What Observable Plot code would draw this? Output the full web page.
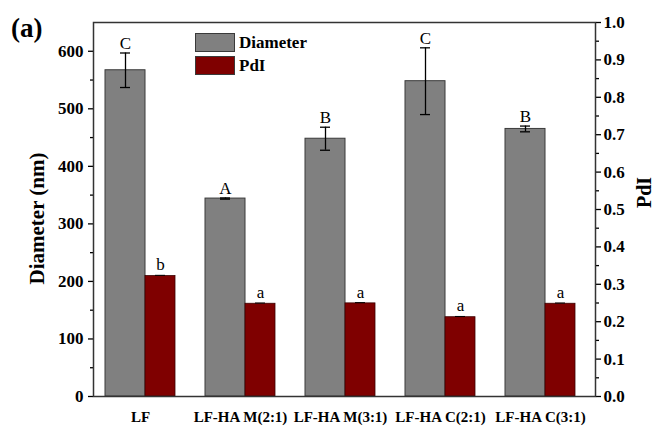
<!DOCTYPE html>
<html>
<head>
<meta charset="utf-8">
<script src="https://cdn.jsdelivr.net/npm/d3@7"></script>
<script src="https://cdn.jsdelivr.net/npm/@observablehq/plot@0.6"></script>
<style>
  html, body { margin: 0; padding: 0; background: #fff; }
  #wrap { position: relative; width: 657px; height: 427px; font-family: "Liberation Serif", "Times New Roman", serif; }
  #wrap svg { display: block; }
  .ov { position: absolute; font-weight: bold; color: #000; white-space: nowrap; line-height: 1; }
  .sw { position: absolute; width: 40px; height: 19px; box-sizing: border-box; border: 1px solid #3a3a3a; }
</style>
</head>
<body>
<div id="wrap"></div>
<script>
// ---- data ----
const categories = ["LF", "LF-HA M(2:1)", "LF-HA M(3:1)", "LF-HA C(2:1)", "LF-HA C(3:1)"];
const diameter   = [567, 344, 448, 548, 465];
const diameterErr = [30, 1, 20, 58, 5];
const diameterLetters = ["C", "A", "B", "C", "B"];
const pdi        = [0.322, 0.248, 0.249, 0.212, 0.248];
const pdiErr     = [0.002, 0.002, 0.002, 0.002, 0.002];
const pdiLetters = ["b", "a", "a", "a", "a"];
const leftTicks  = [0, 100, 200, 300, 400, 500, 600];
const rightTicks = [0, 0.1, 0.2, 0.3, 0.4, 0.5, 0.6, 0.7, 0.8, 0.9, 1.0];

const yMax = 650;          // left axis top; right axis 1.0 aligns with it
const k = yMax / 1.0;      // PdI -> left-axis units

const rows = categories.map((c, i) => ({
  i, c,
  dia: diameter[i], diaErr: diameterErr[i], diaL: diameterLetters[i],
  pdi: pdi[i] * k, pdiErr: pdiErr[i] * k, pdiL: pdiLetters[i]
}));

const serif = "Liberation Serif, Times New Roman, serif";
const leftMinor = leftTicks.slice(0, -1).map(v => v + 50);
const rightMajor = rightTicks.map(v => v * k);
const rightMinor = rightTicks.slice(0, -1).map(v => (v + 0.05) * k);

const chart = Plot.plot({
  width: 657,
  height: 427,
  marginLeft: 93,
  marginRight: 62,
  marginTop: 22,
  marginBottom: 31,
  style: { fontFamily: serif, background: "#fff", color: "#000" },
  x: { type: "linear", domain: [-0.47, 4.55] },
  y: { domain: [0, yMax] },
  marks: [
    Plot.rect(rows, { x1: d => d.i - 0.35, x2: d => d.i + 0.05, y1: 0, y2: "dia", fill: "#808080", stroke: "#3a3a3a", strokeWidth: 1 }),
    Plot.rect(rows, { x1: d => d.i + 0.05, x2: d => d.i + 0.35, y1: 0, y2: "pdi", fill: "#7f0000", stroke: "#3a0000", strokeWidth: 0.8 }),
    // error bars (diameter)
    Plot.ruleX(rows, { x: d => d.i - 0.15, y1: d => d.dia - d.diaErr, y2: d => d.dia + d.diaErr, stroke: "#000", strokeWidth: 1.3 }),
    Plot.ruleY(rows, { y: d => d.dia + d.diaErr, x1: d => d.i - 0.2, x2: d => d.i - 0.1, stroke: "#000", strokeWidth: 1.3 }),
    Plot.ruleY(rows, { y: d => d.dia - d.diaErr, x1: d => d.i - 0.2, x2: d => d.i - 0.1, stroke: "#000", strokeWidth: 1.3 }),
    // error bars (PdI)
    Plot.ruleY(rows, { y: d => d.pdi + d.pdiErr, x1: d => d.i + 0.15, x2: d => d.i + 0.25, stroke: "#000", strokeWidth: 1 }),
    // significance letters
    Plot.text(rows, { x: d => d.i - 0.15, y: d => d.dia + d.diaErr, text: "diaL", lineAnchor: "bottom", dy: -4, fontSize: 17, fontFamily: serif }),
    Plot.text(rows, { x: d => d.i + 0.2, y: d => d.pdi + d.pdiErr, text: "pdiL", lineAnchor: "bottom", dy: -5, fontSize: 17, fontFamily: serif }),
    // left axis
    Plot.axisY({ anchor: "left", ticks: leftTicks, tickSize: 5, tickPadding: 5, fontSize: 17, fontWeight: "bold", label: null, strokeWidth: 1.3 }),
    Plot.axisY({ anchor: "left", ticks: leftMinor, tickSize: 3, tickFormat: () => "", label: null, strokeWidth: 1.3 }),
    // right axis
    Plot.axisY({ anchor: "right", ticks: rightMajor, tickFormat: v => (v / k).toFixed(1), tickSize: 5, tickPadding: 3, fontSize: 17, fontWeight: "bold", label: null, strokeWidth: 1.3 }),
    Plot.axisY({ anchor: "right", ticks: rightMinor, tickSize: 3, tickFormat: () => "", label: null, strokeWidth: 1.3 }),
    // x axis labels
    Plot.axisX({ ticks: [0, 1, 2, 3, 4], tickFormat: i => categories[i], tickSize: 0, tickPadding: 15, fontSize: 15, fontWeight: "bold", label: null }),
    // axis titles
    Plot.text(["Diameter (nm)"], { frameAnchor: "left", textAnchor: "middle", dx: -56, dy: 9, rotate: -90, fontSize: 21, fontWeight: "bold", fontFamily: serif }),
    Plot.text(["PdI"], { frameAnchor: "right", textAnchor: "middle", dx: 49, dy: -17, rotate: -90, fontSize: 20, fontWeight: "bold", fontFamily: serif }),
    Plot.frame({ stroke: "#333", strokeWidth: 1.5 })
  ]
});

const wrap = document.getElementById("wrap");
wrap.appendChild(chart);

function addText(txt, left, top, size) {
  const el = document.createElement("div");
  el.className = "ov";
  el.textContent = txt;
  el.style.left = left + "px";
  el.style.top = top + "px";
  el.style.fontSize = size + "px";
  wrap.appendChild(el);
}
function addSwatch(color, left, top) {
  const el = document.createElement("div");
  el.className = "sw";
  el.style.background = color;
  el.style.left = left + "px";
  el.style.top = top + "px";
  wrap.appendChild(el);
}
addText("(a)", 11, 15, 27);
addSwatch("#808080", 195, 33);
addSwatch("#7f0000", 195, 56);
addText("Diameter", 239, 34, 17);
addText("PdI", 239, 57, 17);
</script>
</body>
</html>
